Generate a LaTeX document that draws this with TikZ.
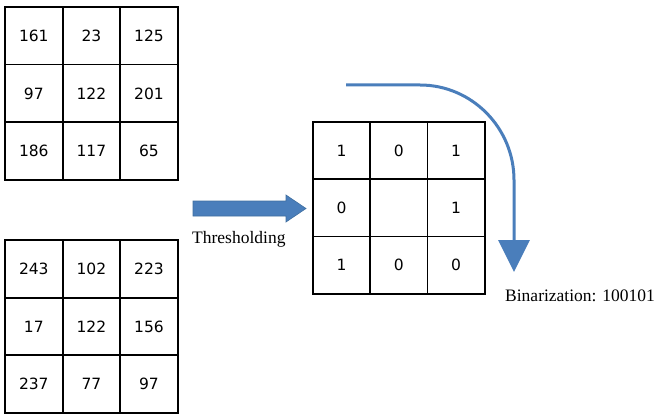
\documentclass[tikz,border=0pt]{standalone}
\usepackage{fontspec}
\setmainfont{Liberation Serif}
\newfontfamily\digitfont{DejaVu Sans}
\usetikzlibrary{arrows.meta}
\definecolor{flowblue}{HTML}{4A7EBB}
\definecolor{flowedge}{HTML}{3F6E9F}
\tikzset{
  cell/.style={draw=black, line width=1.8pt, rectangle, inner sep=0pt,
    font=\digitfont\fontsize{15.5}{16}\selectfont},
  caption/.style={font=\fontsize{17.5}{18}\selectfont, inner sep=0pt},
}
% 3x3 grid of cells: #1 name prefix, #2/#3 top-left corner, #4 cell size (plain number), #5 entries
\newcommand\gridcells[5]{%
  \foreach \txt [count=\k from 0] in {#5}{%
    \pgfmathtruncatemacro\rr{int(\k/3)}%
    \pgfmathtruncatemacro\cc{mod(\k,3)}%
    \node[cell, minimum width=#4pt, minimum height=#4pt] (#1\rr\cc)
      at ({#2+(\cc+0.5)*#4}, {#3+(\rr+0.5)*#4}) {\txt};
  }%
}
\begin{document}
\begin{tikzpicture}[x=1pt,y=-1pt]
\useasboundingbox (0,0) rectangle (658,414);

% grey-level blocks
\gridcells{a}{5}{7}{57.6}{161,23,125,97,122,201,186,117,65}
\gridcells{b}{5}{240}{57.6}{243,102,223,17,122,156,237,77,97}

% binary block
\gridcells{c}{313}{122}{57.2}{1,0,1,0,{},1,1,0,0}

% thresholding block arrow
\coordinate (thrtail) at (193,208.5);
\coordinate (thrtip) at (306,208.5);
\filldraw[fill=flowblue, draw=flowedge, line width=0.6pt]
  (thrtail) ++(0,-7.5) -- ++(93,0) -- ++(0,-6) -- (thrtip)
  -- ++(-20,13.5) -- ++(0,-6) -- ++(-93,0) -- cycle;
\node[caption, anchor=base west] (thrlabel) at (192,243) {Thresholding};

% reading order of the binary code
\coordinate (rs) at (346,85);
\coordinate (re) at (514,272);
\draw[flowblue, line width=3pt, -{Triangle[width=31pt,length=32pt]}]
  (rs) -- (420,85) .. controls (472,85) and (514,128) .. (514,180) -- (re);
\node[caption, anchor=base west] (binlabel) at (505,301) {Binarization: 100101};
\end{tikzpicture}
\end{document}
